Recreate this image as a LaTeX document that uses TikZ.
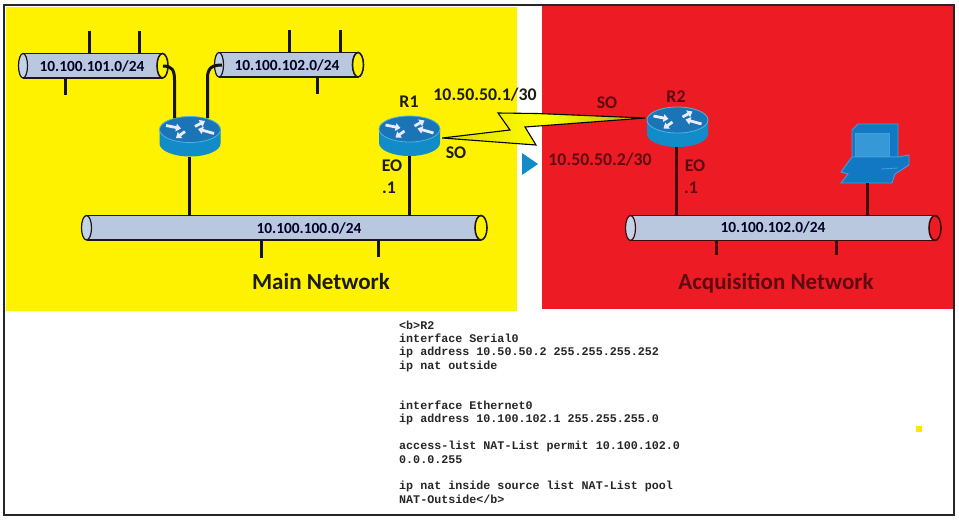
\documentclass[tikz,border=0pt]{standalone}
\usepackage{fontspec}
\setmainfont{Carlito}
\newfontfamily\codefont{Liberation Mono}[BoldFont={Liberation Mono Bold}]
\usetikzlibrary{arrows.meta,calc}
\definecolor{myyellow}{HTML}{FFF200}
\definecolor{myred}{HTML}{ED1C24}
\definecolor{pipefill}{HTML}{B9C8DE}
\definecolor{pipecap}{HTML}{C5D3E8}
\definecolor{darkred}{HTML}{5E0A12}
\definecolor{nearblack}{HTML}{1C1C10}
\definecolor{rtop}{HTML}{1B74B5}
\definecolor{rside}{HTML}{118CC8}
\definecolor{rrim}{HTML}{4FB4E0}
\definecolor{pcblue}{HTML}{1278C4}
\definecolor{pclight}{HTML}{3FA0DC}
\tikzset{
  x=1pt,y=-1pt,
  wire/.style={draw=black!92,line width=3pt},
  rwire/.style={draw=darkred!70!black,line width=3pt},
  lab/.style={font=\fontsize{17.8}{20}\selectfont\bfseries,text=nearblack,inner sep=0pt},
  rlab/.style={font=\fontsize{17.8}{20}\selectfont\bfseries,text=darkred,inner sep=0pt},
  piptxt/.style={font=\fontsize{15.4}{17}\selectfont\bfseries,text=black!85!blue,inner sep=0pt},
  title/.style={font=\fontsize{23}{26}\selectfont\bfseries,inner sep=0pt},
  rarrow/.style={draw=white!92!blue,line width=2.8pt,-{Triangle[width=7.5pt,length=5pt]}},
  slot/.style={inner sep=0pt,minimum width=61pt,minimum height=40pt},
}
% \pipe{name}{left x}{right x}{top y}{bottom y}{right-cap fill}{edge colour}{ellipse half-width}
\newcommand{\pipe}[8]{%
  \path[fill=pipefill] (#2,#4) rectangle (#3,#5);
  \draw[#7,line width=1.9pt] (#2,#4) -- (#3,#4) (#2,#5) -- (#3,#5);
  \draw[#7,line width=1.6pt,fill=#6] (#3,{(#4+#5)/2}) ellipse [x radius=#8,y radius={(#5-#4)/2}];
  \draw[fill=pipecap,draw=#7,line width=1.2pt] (#2,{(#4+#5)/2}) ellipse [x radius=#8-1,y radius={(#5-#4)/2}];
  \node[inner sep=0pt,minimum width={#3-#2},minimum height={#5-#4}] (#1) at ({(#2+#3)/2},{(#4+#5)/2}) {};
}
% \router{name}{centre x}{centre y}
\newcommand{\router}[3]{%
  \begin{scope}[shift={(#2,#3)}]
    \path[fill=rside] (-30.5,-7) -- (-30.5,7) arc[start angle=180,end angle=0,x radius=30.5,y radius=13] -- (30.5,-7) -- cycle;
    \draw[fill=rtop,draw=rrim,line width=0.8pt] (0,-7) ellipse [x radius=30.5,y radius=13];
    \draw[rarrow] (-24,-11) -- (-9,-8);
    \draw[rarrow] (24,-3) -- (8,-7.5);
    \draw[rarrow] (5,-10) -- (15,-15.5);
    \draw[rarrow] (-5,-5) -- (-14,1.5);
  \end{scope}
  \node[slot] (#1) at (#2,#3) {};
}
\begin{document}
\begin{tikzpicture}
\useasboundingbox (0,0) rectangle (959,520);
\path[fill=white] (0,0) rectangle (959,520);
\path[fill=myyellow] (6,7) rectangle (517,311);
\path[fill=myred] (542,5) rectangle (953,309);
\draw[black!85,line width=1.8pt] (4,5) rectangle (954,515);

% blue triangle
\path[fill=rside] (522,153) -- (538,164) -- (522,175) -- cycle;

% pipes
\pipe{pa}{23}{162.5}{53.5}{78}{myyellow}{black!90}{5.5}
\pipe{pb}{219}{358}{52.5}{77}{myyellow}{black!90}{5.5}
\pipe{pm}{86.5}{481}{215.5}{240}{myyellow}{black!90}{6}
\pipe{pq}{630.5}{935}{215.5}{240.5}{myred}{darkred!70!black}{6}

% routers
\router{r0}{190}{136.5}
\router{r1}{409.5}{136}
\router{r2}{677.5}{127}

% PC
\path[fill=pcblue,draw=pclight,line width=0.9pt] (852,130) -- (858,124) -- (898,124) -- (898,157) -- (852,157) -- cycle;
\path[fill=pclight!80!pcblue,draw=pclight,line width=0.8pt] (855,133) rectangle (889,156);
\path[fill=pcblue,draw=pclight,line width=0.9pt] (841,172) -- (852,157) -- (898,157) -- (909,155) -- (909,165) -- (895,174) -- (892,183) -- (841,183) -- (848,174) -- cycle;
\draw[pclight,line width=0.8pt] (881,169) -- (898,168);
\node[inner sep=0pt,minimum width=68pt,minimum height=59pt] (pc) at (875,153.5) {};

% free ends of the stubs
\coordinate (a1) at (89,31);
\coordinate (a2) at (139.5,31);
\coordinate (a3) at (65,95);
\coordinate (b1) at (289.5,30);
\coordinate (b2) at (340.5,30);
\coordinate (b3) at (317.5,94);
\coordinate (m1) at (261,258);
\coordinate (m2) at (378,257);
\coordinate (q1) at (716,255);
\coordinate (q2) at (836,255);
\coordinate (capa) at (163,66);
\coordinate (capb) at (222,65);

% stubs
\draw[wire] (a1) -- (a1 |- pa.north);
\draw[wire] (a2) -- (a2 |- pa.north);
\draw[wire] (a3) -- (a3 |- pa.south);
\draw[wire] (b1) -- (b1 |- pb.north);
\draw[wire] (b2) -- (b2 |- pb.north);
\draw[wire] (b3) -- (b3 |- pb.south);
\draw[wire] (m1) -- (m1 |- pm.south);
\draw[wire] (m2) -- (m2 |- pm.south);
\draw[rwire] (q1) -- (q1 |- pq.south);
\draw[rwire] (q2) -- (q2 |- pq.south);

% router links
\draw[wire] (capa) .. controls (172,66) and (174.5,70) .. (174.5,80) -- (174.5,118);
\draw[wire] (capb) .. controls (212,65) and (207.5,68) .. (207.5,78) -- (207.5,118);
\draw[wire] (r0.south -| 189,0) -- (189,215.5);
\draw[wire] (r1.south -| 409,0) -- (409,215.5);
\draw[rwire] (r2.south -| 676,0) -- (676,215.5);
\draw[rwire] (pc.south -| 867,0) -- (867,215.5);

% serial link bolt
\path[left color=yellow!85!black,right color=yellow!70!black,middle color=yellow,draw=black,line width=1.1pt,line join=miter]
  (r1.east) ++(2,2) -- (510,130) -- (498,113) -- (537,113.5) -- (645,118) -- (525,127) -- (536,145) -- cycle;

% labels
\node[piptxt] (ta) at (92,66) {10.100.101.0/24};
\node[piptxt] (tb) at (287,65) {10.100.102.0/24};
\node[piptxt] (tm) at (309,228) {10.100.100.0/24};
\node[piptxt] (tq) at (773,227) {10.100.102.0/24};
\node[title,text=nearblack] (tmain) at (321,282) {Main Network};
\node[title,text=darkred] (tacq) at (776,283) {Acquisition Network};
\node[lab] (l1) at (409,102) {R1};
\node[lab] (l2) at (485,95) {10.50.50.1/30};
\node[lab] (l3) at (456,153) {SO};
\node[lab] (l4) at (392,166) {EO};
\node[lab] (l5) at (389,188) {.1};
\node[rlab] (l6) at (607,103) {SO};
\node[rlab] (l7) at (676,97) {R2};
\node[rlab] (l8) at (600,160) {10.50.50.2/30};
\node[rlab] (l9) at (695,166) {EO};
\node[rlab] (l10) at (691,188) {.1};

% configuration text
\node[anchor=north west,inner sep=0pt,align=left,font=\codefont\bfseries\fontsize{11.7}{13.4}\selectfont,text=black!85] (cfg) at (399,320.5) {%
<b>R2\\
interface Serial0\\
ip address 10.50.50.2 255.255.255.252\\
ip nat outside\\[26.8pt]
interface Ethernet0\\
ip address 10.100.102.1 255.255.255.0\\[13.4pt]
access-list NAT-List permit 10.100.102.0\\
0.0.0.255\\[13.4pt]
ip nat inside source list NAT-List pool\\
NAT-Outside</b>};

% marker
\path[fill=yellow!90!orange] (916,426) rectangle (922,432);
\end{tikzpicture}
\end{document}
